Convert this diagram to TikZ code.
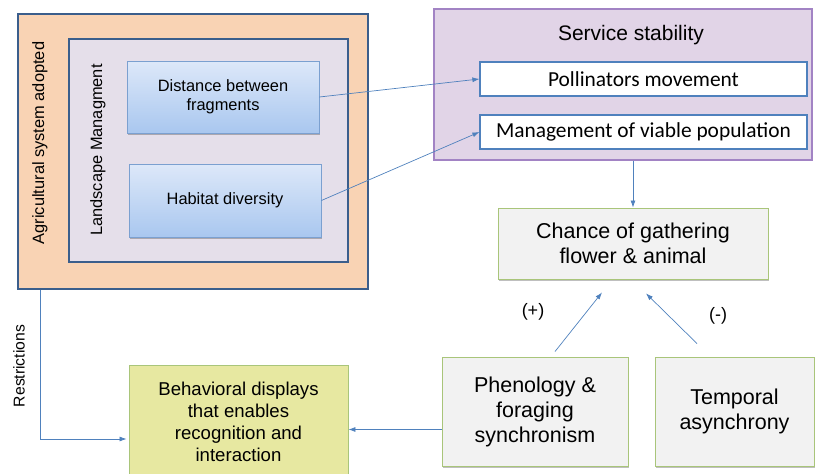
\documentclass[tikz,border=0pt]{standalone}
\usepackage{fontspec}
\setmainfont{Liberation Sans}
\newfontfamily\calfont{Carlito}
\usepackage{tikz}
\usetikzlibrary{arrows.meta}
\usetikzlibrary{shadows}

\definecolor{agriFill}{HTML}{F9D3B4}
\definecolor{navyLine}{HTML}{3B5E8C}
\definecolor{landFill}{HTML}{E5DFEA}
\definecolor{blueTop}{HTML}{DDE8F9}
\definecolor{blueBot}{HTML}{A9C7EF}
\definecolor{blueLine}{HTML}{7BA0D0}
\definecolor{servFill}{HTML}{E1D4E7}
\definecolor{servLine}{HTML}{A283C4}
\definecolor{arrowBlue}{HTML}{4F81BD}
\definecolor{greyFill}{HTML}{F2F2F2}
\definecolor{greenLine}{HTML}{A9C57A}
\definecolor{yellowFill}{HTML}{E7E8A1}

\tikzset{
  box/.style={rectangle, inner sep=2pt, align=center, text=black},
  softshadow/.style={drop shadow={shadow xshift=1pt, shadow yshift=-1.5pt, opacity=0.25, fill=black}},
  bluebox/.style={box, draw=blueLine, line width=0.8pt, top color=blueTop, bottom color=blueBot,
    softshadow, font=\fontsize{16.4}{19}\selectfont},
  whitebox/.style={box, draw=arrowBlue, line width=1.2pt, fill=white, font=\calfont\fontsize{21.4}{24}\selectfont},
  greybox/.style={box, draw=greenLine, line width=0.9pt, fill=greyFill, softshadow,
    font=\fontsize{21.5}{25}\selectfont},
  arr/.style={draw=arrowBlue, line width=0.7pt, -{Latex[length=7pt,width=5pt]}},
  sidelabel/.style={rotate=90, font=\fontsize{16.4}{19}\selectfont}
}

\begin{document}
\begin{tikzpicture}[x=1pt,y=-1pt]
\useasboundingbox (0,0) rectangle (815,474);

% left block
\node[box, draw=navyLine, line width=1.4pt, fill=agriFill, minimum width=350pt, minimum height=275pt] (agri) at (193,151.5) {};
\node[box, draw=navyLine, line width=1.2pt, fill=landFill, minimum width=279pt, minimum height=223pt] (land) at (208.5,150.5) {};
\node[sidelabel] (agrilabel) at (40,143) {Agricultural system adopted};
\node[sidelabel] (landlabel) at (98,150) {Landscape Managment};
\node[bluebox, minimum width=192pt, minimum height=72pt] (dist) at (223,97) {Distance between\\fragments};
\node[bluebox, minimum width=192pt, minimum height=73pt] (habit) at (225,200.5) {Habitat diversity};

% service stability
\node[box, draw=servLine, line width=1.4pt, fill=servFill, minimum width=378pt, minimum height=151pt] (service) at (623,84.5) {};
\node[box, font=\fontsize{21}{24}\selectfont] (servtitle) at (631,35) {Service stability};
\node[whitebox, minimum width=327pt, minimum height=34pt] (poll) at (643.5,79) {Pollinators movement};
\node[whitebox, minimum width=327pt, minimum height=34pt] (mgmt) at (643.5,132) {Management of viable population};

% lower boxes
\node[greybox, minimum width=270pt, minimum height=71pt] (chance) at (633,243.5) {Chance of gathering\\flower \& animal};
\node[greybox, minimum width=186pt, minimum height=109pt] (pheno) at (535,411.5) {Phenology \&\\foraging\\synchronism};
\node[greybox, minimum width=159pt, minimum height=109pt] (temp) at (734.5,411.5) {Temporal\\asynchrony};
\node[box, draw=greenLine, line width=0.9pt, fill=yellowFill, minimum width=219pt, minimum height=114pt,
  font=\fontsize{18.6}{22}\selectfont] (behav) at (238.5,422) {Behavioral displays\\that enables\\recognition and\\interaction};

\node[font=\fontsize{18}{20}\selectfont] (plus) at (533,312) {(+)};
\node[font=\fontsize{18}{20}\selectfont] (minus) at (718,316) {(-)};
\node[rotate=90, font=\fontsize{15.7}{18}\selectfont] (restr) at (19,366) {Restrictions};

% connectors
\draw[arr] (dist.east) -- (poll.west);
\draw[arr] (habit.east) -- (mgmt.west);
\draw[arr] (chance.north |- service.south) -- (chance.north);
\draw[arr] ([xshift=20pt,yshift=5pt]pheno.north) -- ([xshift=-31pt,yshift=-13pt]chance.south);
\draw[arr] ([xshift=-37.5pt,yshift=13pt]temp.north) -- ([xshift=13pt,yshift=-14pt]chance.south);
\draw[arr] ([yshift=-18pt]pheno.west) -- ([yshift=-18pt]pheno.west -| behav.east);
\draw[arr] ([xshift=-153pt]agri.south) |- ([xshift=-2pt,yshift=-17pt]behav.west);

\end{tikzpicture}
\end{document}
